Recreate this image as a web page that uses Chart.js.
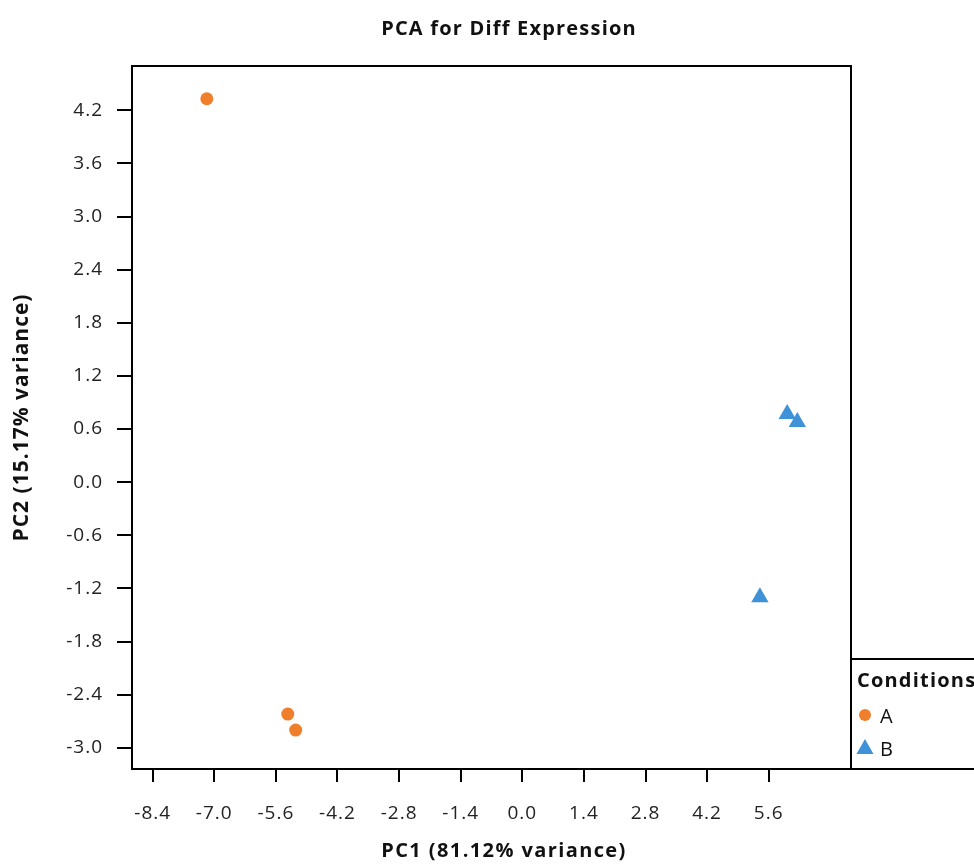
<!DOCTYPE html>
<html>
<head>
<meta charset="utf-8">
<script src="https://cdn.jsdelivr.net/npm/chart.js@4.4.0/dist/chart.umd.min.js"></script>
<style>
    body { margin: 0; background: #fff; }
    canvas { display: block; }
</style>
</head>
<body>
<canvas id="pcaChart" width="974" height="865"></canvas>
<script>
const chartTitle = 'PCA for Diff Expression';
const xTitle = 'PC1 (81.12% variance)';
const yTitle = 'PC2 (15.17% variance)';
const legendTitle = 'Conditions';

const conditions = ['A', 'B'];
const pc1A = [-7.17, -5.33, -5.15];
const pc2A = [4.33, -2.62, -2.80];
const pc1B = [6.02, 6.25, 5.40];
const pc2B = [0.77, 0.68, -1.30];

const xTicks = [-8.4, -7.0, -5.6, -4.2, -2.8, -1.4, 0.0, 1.4, 2.8, 4.2, 5.6];
const yTicks = [-3.0, -2.4, -1.8, -1.2, -0.6, 0.0, 0.6, 1.2, 1.8, 2.4, 3.0, 3.6, 4.2];

const colorA = '#f07f2c';
const colorB = '#3f92d8';
const fontFamily = '"Open Sans", "Noto Sans", sans-serif';

function toPoints(xs, ys) {
    return xs.map((x, i) => ({ x: x, y: ys[i] }));
}

// the original text is a bit wider than Open Sans, so space it out slightly
const spacingPlugin = {
    id: 'spacing',
    beforeDraw(chart) {
        chart.ctx.letterSpacing = '1px';
    }
};

const framePlugin = {
    id: 'frame',
    afterDraw(chart) {
        const ctx = chart.ctx;
        const area = chart.chartArea;
        ctx.save();
        ctx.strokeStyle = '#000';
        ctx.lineWidth = 2;
        ctx.strokeRect(area.left, area.top, area.right - area.left, area.bottom - area.top);

        // legend box, cut off at the right edge like the original
        ctx.strokeRect(area.right, 659, 200, area.bottom - 659);

        ctx.fillStyle = '#111';
        ctx.textBaseline = 'alphabetic';
        ctx.textAlign = 'center';
        ctx.letterSpacing = '1.2px';
        ctx.font = 'bold 20px ' + fontFamily;
        ctx.fillText(chartTitle, 509, 35);
        ctx.letterSpacing = '1.4px';
        ctx.fillText(xTitle, 504, 857);

        ctx.textAlign = 'left';
        ctx.letterSpacing = '1.2px';
        ctx.fillText(legendTitle, 857, 687);

        ctx.fillStyle = colorA;
        ctx.beginPath();
        ctx.arc(865, 715, 6, 0, Math.PI * 2);
        ctx.fill();
        ctx.fillStyle = colorB;
        ctx.beginPath();
        ctx.moveTo(865, 739);
        ctx.lineTo(873.5, 754);
        ctx.lineTo(856.5, 754);
        ctx.closePath();
        ctx.fill();

        ctx.fillStyle = '#111';
        ctx.font = '20px ' + fontFamily;
        ctx.letterSpacing = '1px';
        ctx.fillText(conditions[0], 880, 723);
        ctx.fillText(conditions[1], 880, 756);
        ctx.restore();
    }
};

const ctx = document.getElementById('pcaChart').getContext('2d');
new Chart(ctx, {
    type: 'scatter',
    data: {
        datasets: [{
            label: conditions[0],
            data: toPoints(pc1A, pc2A),
            pointStyle: 'circle',
            pointRadius: 6.5,
            pointHoverRadius: 6.5,
            backgroundColor: colorA,
            borderWidth: 0
        }, {
            label: conditions[1],
            data: toPoints(pc1B, pc2B),
            pointStyle: 'triangle',
            pointRadius: 10,
            pointHoverRadius: 10,
            backgroundColor: colorB,
            borderWidth: 0
        }]
    },
    options: {
        responsive: false,
        animation: false,
        layout: { padding: { top: 66, right: 123, left: 0, bottom: 0 } },
        plugins: {
            legend: { display: false },
            title: { display: false },
            tooltip: { enabled: false }
        },
        scales: {
            x: {
                type: 'linear',
                min: -8.87,
                max: 7.47,
                afterBuildTicks: (scale) => { scale.ticks = xTicks.map(v => ({ value: v })); },
                afterFit: (scale) => { scale.height = 96; },
                grid: { drawOnChartArea: false, drawTicks: true, tickLength: 13, color: '#000', lineWidth: 2 },
                border: { display: true, color: '#000', width: 2 },
                ticks: {
                    padding: 20,
                    color: '#222',
                    font: { family: fontFamily, size: 19 },
                    callback: (v) => Number(v).toFixed(1)
                }
            },
            y: {
                type: 'linear',
                min: -3.24,
                max: 4.7,
                afterBuildTicks: (scale) => { scale.ticks = yTicks.map(v => ({ value: v })); },
                afterFit: (scale) => { scale.width = 132; },
                grid: { drawOnChartArea: false, drawTicks: true, tickLength: 15, color: '#000', lineWidth: 2 },
                border: { display: true, color: '#000', width: 2 },
                title: {
                    display: true,
                    text: yTitle,
                    color: '#111',
                    font: { family: fontFamily, size: 21, weight: 'bold' },
                    padding: { top: 9, bottom: 0 }
                },
                ticks: {
                    padding: 14,
                    color: '#222',
                    font: { family: fontFamily, size: 19 },
                    callback: (v) => Number(v).toFixed(1)
                }
            }
        }
    },
    plugins: [spacingPlugin, framePlugin]
});
</script>
</body>
</html>
